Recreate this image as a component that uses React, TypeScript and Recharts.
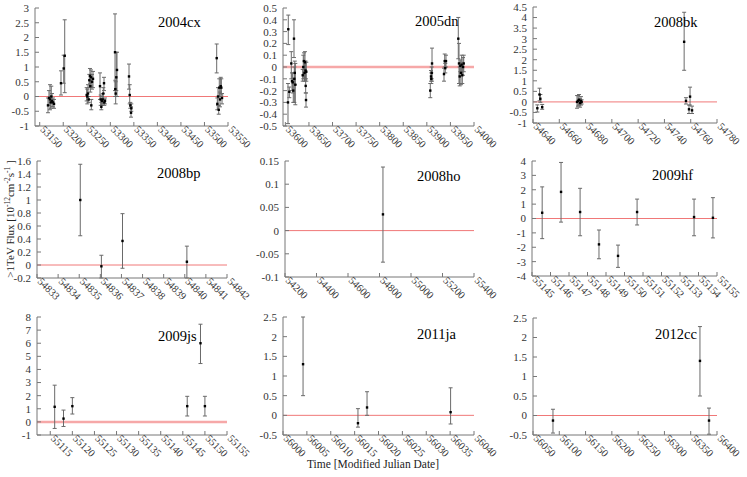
import React from 'react';
import { ScatterChart, Scatter, XAxis, YAxis, ErrorBar, ReferenceLine } from 'recharts';

// [MJD, flux, lower, upper]
const SN2004cx: number[][] = [
  [53167.6, -0.3, -0.55, -0.05], [53169.7, -0.05, -0.3, 0.2], [53171.9, -0.1, -0.45, 0.4],
  [53173.4, -0.2, -0.4, 0.0], [53174.6, 0.0, -0.2, 0.35], [53176.1, -0.15, -0.35, 0.1],
  [53178.2, -0.2, -0.35, -0.05], [53180.4, -0.25, -0.4, -0.1], [53195.2, 0.45, 0.05, 0.87],
  [53201.0, 0.95, 0.45, 1.4], [53203.1, 1.38, 0.13, 2.6], [53249.8, 0.05, -0.15, 0.3],
  [53251.1, 0.0, -0.25, 0.25], [53252.6, 0.1, -0.1, 0.4], [53254.1, -0.1, -0.2, 0.0],
  [53255.4, 0.55, 0.3, 0.75], [53256.8, 0.7, 0.45, 0.95], [53257.5, 0.35, 0.15, 0.55],
  [53259.0, 0.65, 0.35, 0.9], [53259.6, -0.3, -0.45, -0.1], [53261.1, 0.5, 0.25, 0.75],
  [53263.2, 0.6, 0.3, 0.85], [53278.1, 0.35, -0.1, 0.8], [53279.6, -0.1, -0.3, 0.05],
  [53280.9, -0.35, -0.45, -0.2], [53282.3, -0.15, -0.3, 0.0], [53283.8, -0.1, -0.25, 0.1],
  [53285.1, 0.1, -0.1, 0.3], [53286.6, 0.45, 0.2, 0.65], [53287.2, -0.2, -0.3, -0.1],
  [53288.7, -0.15, -0.25, -0.05], [53310.0, 1.5, 0.2, 2.8], [53310.6, 0.25, 0.0, 0.55],
  [53311.4, 0.1, -0.25, 0.5], [53312.7, 0.65, 0.2, 1.5], [53314.2, 0.9, 0.0, 1.5],
  [53339.7, 0.68, 0.25, 1.1], [53341.2, 0.05, -0.25, 0.4], [53342.5, -0.3, -0.4, -0.2],
  [53344.0, -0.55, -0.7, -0.35], [53344.6, -0.4, -0.5, -0.25], [53526.0, 1.3, 0.8, 1.78],
  [53527.3, -0.25, -0.45, -0.05], [53528.8, 0.0, -0.3, 0.3], [53530.3, -0.45, -0.6, -0.3],
  [53531.5, 0.3, 0.0, 0.6], [53533.0, -0.1, -0.35, 0.15], [53534.5, 0.35, 0.1, 0.65],
  [53535.8, 0.3, 0.05, 0.6], [53537.3, -0.05, -0.25, 0.1],
];

const SN2005dn: number[][] = [
  [53605.6, -0.3, -0.48, -0.14], [53606.2, 0.32, 0.19, 0.44], [53608.4, -0.21, -0.26, -0.17],
  [53612.6, 0.03, -0.1, 0.13], [53614.1, -0.12, -0.2, -0.05], [53615.6, -0.13, -0.22, -0.05],
  [53616.8, -0.2, -0.3, -0.1], [53618.3, 0.24, 0.08, 0.4], [53619.0, -0.1, -0.3, 0.0],
  [53620.0, -0.05, -0.15, 0.05], [53621.1, -0.15, -0.32, 0.03],
  [53636.8, -0.07, -0.12, -0.02], [53638.0, 0.0, -0.1, 0.1], [53639.5, 0.05, -0.02, 0.12],
  [53640.6, -0.05, -0.12, 0.05], [53641.6, 0.04, -0.05, 0.13], [53642.7, -0.03, -0.1, 0.05],
  [53643.1, -0.16, -0.22, -0.1], [53643.8, -0.28, -0.34, -0.22], [53644.4, -0.04, -0.12, 0.04],
  [53907.3, -0.2, -0.26, -0.14], [53908.8, -0.08, -0.12, -0.03], [53909.5, -0.1, -0.14, -0.05],
  [53910.3, -0.05, -0.1, 0.0], [53911.0, 0.03, -0.12, 0.16],
  [53936.4, -0.06, -0.12, -0.01], [53937.9, 0.05, 0.0, 0.11], [53939.1, -0.01, -0.05, 0.03],
  [53940.6, 0.05, 0.0, 0.1],
  [53966.7, 0.24, 0.07, 0.42], [53968.2, 0.03, -0.14, 0.2], [53969.7, -0.08, -0.16, 0.0],
  [53970.9, 0.01, -0.04, 0.06], [53972.4, -0.05, -0.15, 0.04], [53973.9, 0.02, -0.05, 0.1],
  [53975.2, -0.07, -0.14, 0.0], [53976.7, 0.0, -0.07, 0.08], [53978.2, 0.03, -0.04, 0.1],
];

const SN2008bk: number[][] = [
  [54643.3, -0.3, -0.48, -0.14], [54645.0, 0.35, 0.05, 0.65], [54645.6, 0.15, -0.02, 0.35],
  [54647.0, -0.25, -0.35, -0.12], [54673.5, 0.0, -0.3, 0.3], [54674.3, 0.05, -0.2, 0.3],
  [54675.0, 0.1, -0.15, 0.35], [54675.8, -0.05, -0.25, 0.15], [54676.5, 0.05, -0.15, 0.25],
  [54677.0, 0.0, -0.1, 0.1], [54755.0, 2.85, 1.5, 4.25], [54756.4, 0.05, -0.1, 0.2],
  [54758.7, -0.35, -0.55, -0.15], [54759.5, 0.25, -0.15, 0.7], [54761.0, -0.4, -0.55, -0.2],
];

const SN2008bp: number[][] = [
  [54835.05, 1.0, 0.45, 1.55], [54836.05, -0.02, -0.2, 0.15],
  [54837.05, 0.37, -0.05, 0.79], [54840.1, 0.05, -0.2, 0.29],
];

const SN2008ho: number[][] = [[54822, 0.035, -0.068, 0.137]];

const SN2009hf: number[][] = [
  [55145.55, 0.4, -1.4, 2.2], [55146.57, 1.85, -0.25, 3.9], [55147.6, 0.45, -1.2, 2.1],
  [55148.62, -1.8, -2.8, -0.8], [55149.65, -2.6, -3.4, -1.85], [55150.68, 0.45, -0.45, 1.35],
  [55153.76, 0.1, -1.2, 1.35], [55154.78, 0.05, -1.35, 1.45],
];

const SN2009js: number[][] = [
  [55116, 1.15, -0.5, 2.8], [55118, 0.25, -0.35, 0.9], [55120, 1.2, 0.6, 1.85],
  [55146, 1.2, 0.45, 1.95], [55149, 6.0, 4.45, 7.45], [55150, 1.2, 0.45, 1.95],
];

const SN2011ja: number[][] = [
  [56004.2, 1.3, 0.5, 2.5], [56015.7, -0.2, -0.3, 0.17],
  [56017.6, 0.2, 0.0, 0.6], [56035.1, 0.08, -0.22, 0.7],
];

const SN2012cc: number[][] = [
  [56088, -0.13, -0.45, 0.16], [56367.6, 1.4, 0.5, 2.28], [56384.8, -0.13, -0.48, 0.19],
];

const X_2004cx = [53150, 53200, 53250, 53300, 53350, 53400, 53450, 53500, 53550];
const X_2005dn = [53600, 53650, 53700, 53750, 53800, 53850, 53900, 53950, 54000];
const X_2008bk = [54640, 54660, 54680, 54700, 54720, 54740, 54760, 54780];
const X_2008bp = [54833, 54834, 54835, 54836, 54837, 54838, 54839, 54840, 54841, 54842];
const X_2008ho = [54200, 54400, 54600, 54800, 55000, 55200, 55400];
const X_2009hf = [55145, 55146, 55147, 55148, 55149, 55150, 55151, 55152, 55153, 55154, 55155];
const X_2009js = [55115, 55120, 55125, 55130, 55135, 55140, 55145, 55150, 55155];
const X_2011ja = [56000, 56005, 56010, 56015, 56020, 56025, 56030, 56035, 56040];
const X_2012cc = [56050, 56100, 56150, 56200, 56250, 56300, 56350, 56400];

const Y_2004cx = [-1, -0.5, 0, 0.5, 1, 1.5, 2, 2.5, 3];
const Y_2005dn = [-0.5, -0.4, -0.3, -0.2, -0.1, 0, 0.1, 0.2, 0.3, 0.4, 0.5];
const Y_2008bk = [-1, -0.5, 0, 0.5, 1, 1.5, 2, 2.5, 3, 3.5, 4, 4.5];
const Y_2008bp = [-0.2, 0, 0.2, 0.4, 0.6, 0.8, 1, 1.2, 1.4, 1.6];
const Y_2008ho = [-0.1, -0.05, 0, 0.05, 0.1, 0.15];
const Y_2009hf = [-4, -3, -2, -1, 0, 1, 2, 3, 4];
const Y_2009js = [-1, 0, 1, 2, 3, 4, 5, 6, 7, 8];
const Y_2011ja = [-0.5, 0, 0.5, 1, 1.5, 2, 2.5];
const Y_2012cc = [-0.5, 0, 0.5, 1, 1.5, 2, 2.5];

const FONT = '"Liberation Serif", "DejaVu Serif", serif';

type Panel = {
  name: string;
  data: number[][];
  xTicks: number[];
  yTicks: number[];
  xMin?: number;
  rect: [number, number, number, number]; // left, right, top, bottom
  title: [number, number];
  zeroWide?: boolean;
};

const PANELS: Panel[] = [
  { name: '2004cx', data: SN2004cx, xTicks: X_2004cx, yTicks: Y_2004cx, xMin: 53140, rect: [35, 228, 8, 126], title: [158, 27] },
  { name: '2005dn', data: SN2005dn, xTicks: X_2005dn, yTicks: Y_2005dn, xMin: 53595, rect: [283, 474, 8, 126], title: [415, 26], zeroWide: true },
  { name: '2008bk', data: SN2008bk, xTicks: X_2008bk, yTicks: Y_2008bk, rect: [533, 717, 7, 123], title: [654, 27] },
  { name: '2008bp', data: SN2008bp, xTicks: X_2008bp, yTicks: Y_2008bp, rect: [37, 227, 161, 278], title: [157, 178] },
  { name: '2008ho', data: SN2008ho, xTicks: X_2008ho, yTicks: Y_2008ho, rect: [285, 474, 161, 277], title: [417, 181] },
  { name: '2009hf', data: SN2009hf, xTicks: X_2009hf, yTicks: Y_2009hf, rect: [532, 717, 161, 276], title: [652, 180] },
  { name: '2009js', data: SN2009js, xTicks: X_2009js, yTicks: Y_2009js, xMin: 55112, rect: [37, 227, 317, 435], title: [158, 341], zeroWide: true },
  { name: '2011ja', data: SN2011ja, xTicks: X_2011ja, yTicks: Y_2011ja, rect: [283, 474, 317, 435], title: [417, 339] },
  { name: '2012cc', data: SN2012cc, xTicks: X_2012cc, yTicks: Y_2012cc, rect: [533, 717, 318, 435], title: [655, 339] },
];

const XTick = (props: any) => {
  const { x, y, payload } = props;
  return (
    <text x={x} y={y} transform={`rotate(45 ${x} ${y})`} fontSize={10.5} fill="#333" fontFamily={FONT} textAnchor="start">
      {payload.value}
    </text>
  );
};

const Marker = (props: any) => {
  const { cx, cy } = props;
  if (cx == null || cy == null) return null;
  return <rect x={cx - 1.2} y={cy - 1.2} width={2.4} height={2.4} fill="#000" />;
};

const LM = 45, RM = 45, TM = 6, BM = 40;

function PanelChart({ p }: { p: Panel }) {
  const [l, r, t, b] = p.rect;
  const rows = p.data.map((d) => ({ x: d[0], y: d[1], err: [d[1] - d[2], d[3] - d[1]] }));
  const xDomain = [p.xMin ?? p.xTicks[0], p.xTicks[p.xTicks.length - 1]];
  const yDomain = [p.yTicks[0], p.yTicks[p.yTicks.length - 1]];
  const w = r - l + LM + RM;
  const h = b - t + TM + BM;
  return (
    <div style={{ position: 'absolute', left: l - LM, top: t - TM, width: w, height: h }}>
      <ScatterChart width={w} height={h} margin={{ top: TM, right: RM, bottom: 0, left: 0 }}>
        <XAxis xAxisId="t" orientation="top" type="number" dataKey="x" domain={xDomain} ticks={p.xTicks}
          allowDataOverflow height={0} tick={false} tickSize={-4} stroke="#aaa" />
        <YAxis yAxisId="r" orientation="right" type="number" dataKey="y" domain={yDomain} ticks={p.yTicks}
          allowDataOverflow width={0} tick={false} tickSize={-4} stroke="#aaa" />
        <XAxis type="number" dataKey="x" domain={xDomain} ticks={p.xTicks} allowDataOverflow interval={0}
          height={BM} tickSize={-4} tickMargin={8} stroke="#777" tick={<XTick />} />
        <YAxis type="number" dataKey="y" domain={yDomain} ticks={p.yTicks} allowDataOverflow interval={0}
          width={LM} tickSize={-4} tickMargin={10} stroke="#777"
          tick={{ fontSize: 11, fill: '#333', fontFamily: FONT }} />
        <ReferenceLine y={0} stroke={p.zeroWide ? '#f6a8a8' : '#f07878'} strokeWidth={p.zeroWide ? 2.5 : 1} />
        <Scatter data={rows} dataKey="y" isAnimationActive={false} shape={<Marker />}>
          <ErrorBar dataKey="err" direction="y" width={2} stroke="#6a6a6a" strokeWidth={1} />
        </Scatter>
      </ScatterChart>
    </div>
  );
}

export default function App() {
  return (
    <div style={{ position: 'absolute', left: 0, top: 0, width: 747, height: 477, background: '#fff', fontFamily: FONT }}>
      {PANELS.map((p) => (
        <PanelChart key={p.name} p={p} />
      ))}
      <svg width={747} height={477} style={{ position: 'absolute', left: 0, top: 0, pointerEvents: 'none' }}>
        {PANELS.map((p) => (
          <text key={p.name} x={p.title[0]} y={p.title[1]} fontSize={14.5} fontFamily={FONT} fill="#000">
            {p.name}
          </text>
        ))}
        <text x={373} y={468} fontSize={11.5} fontFamily={FONT} fill="#222" textAnchor="middle">
          Time [Modified Julian Date]
        </text>
        <text transform="rotate(-90 14 219)" x={14} y={219} fontSize={11} fontFamily={FONT} fill="#222" textAnchor="middle">
          {'>1TeV Flux [10'}
          <tspan fontSize={7.5} dy={-4}>{'-12'}</tspan>
          <tspan dy={4}>{'cm'}</tspan>
          <tspan fontSize={7.5} dy={-4}>{'-2'}</tspan>
          <tspan dy={4}>{'s'}</tspan>
          <tspan fontSize={7.5} dy={-4}>{'-1'}</tspan>
          <tspan dy={4}>{' ]'}</tspan>
        </text>
      </svg>
    </div>
  );
}
